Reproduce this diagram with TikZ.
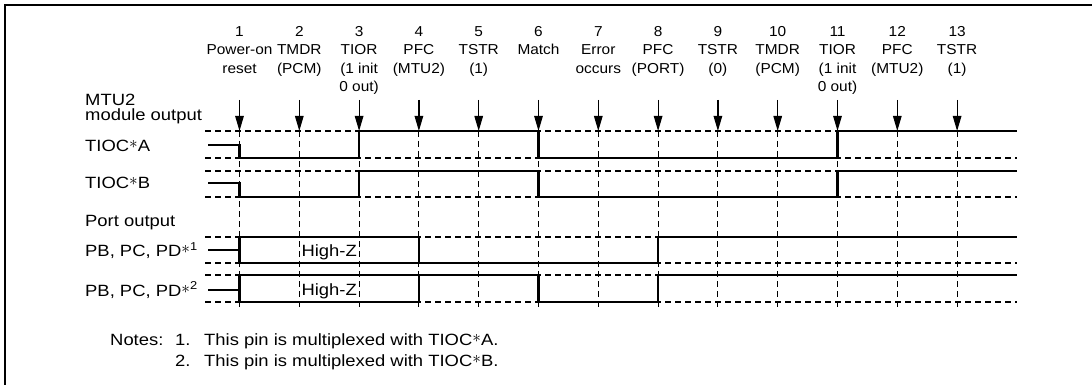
\documentclass[tikz,border=0pt]{standalone}
\usepackage{fontspec}
\setmainfont{Liberation Sans}[FakeStretch=1.13]
\newfontfamily\hdrfont{Liberation Sans}[FakeStretch=1.07]
\usetikzlibrary{arrows.meta}
\newcommand{\tast}{\raisebox{0.17em}{$\ast$}}
\tikzset{
    frame/.style={line width=2.2pt}, % outer frame (top and left edge)
    evlabel/.style={anchor=north, align=center, inner sep=0pt, font=\hdrfont\fontsize{14.4}{18.5}\selectfont},
    lbl/.style={anchor=base west, inner sep=0pt, font=\fontsize{16.3}{18}\selectfont},
    evarrow/.style={line width=1.2pt, -{Triangle[length=15pt,width=8.5pt]}},
    gridline/.style={line width=1.1pt, dash pattern=on 6pt off 4pt},
    wave/.style={line width=2.6pt, line join=miter}
}

\begin{document}
\begin{tikzpicture}[x=1pt, y=-1pt]
    \useasboundingbox (0,0) rectangle (1092,385);
    \draw[frame] (1092,5) -- (5,5) -- (5,385);

    % events
    \node[evlabel] (ev1) at (239.5,26) {1\\Power-on\\reset};
    \node[evlabel] (ev2) at (299.3,26) {2\\TMDR\\(PCM)};
    \node[evlabel] (ev3) at (359.1,26) {3\\TIOR\\(1 init\\0 out)};
    \node[evlabel] (ev4) at (418.9,26) {4\\PFC\\(MTU2)};
    \node[evlabel] (ev5) at (478.7,26) {5\\TSTR\\(1)};
    \node[evlabel] (ev6) at (538.5,26) {6\\Match};
    \node[evlabel] (ev7) at (598.3,26) {7\\Error\\occurs};
    \node[evlabel] (ev8) at (658.1,26) {8\\PFC\\(PORT)};
    \node[evlabel] (ev9) at (717.9,26) {9\\TSTR\\(0)};
    \node[evlabel] (ev10) at (777.7,26) {10\\TMDR\\(PCM)};
    \node[evlabel] (ev11) at (837.5,26) {11\\TIOR\\(1 init\\0 out)};
    \node[evlabel] (ev12) at (897.3,26) {12\\PFC\\(MTU2)};
    \node[evlabel] (ev13) at (957.1,26) {13\\TSTR\\(1)};

    % signal names
    \node[lbl] (mtu) at (85,106) {MTU2};
    \node[lbl] (modout) at (85,120.7) {module output};
    \node[lbl] (tioca) at (85,151.7) {TIOC\tast A};
    \node[lbl] (tiocb) at (85,188.3) {TIOC\tast B};
    \node[lbl] (portout) at (85,226) {Port output};
    \node[lbl] (pb1) at (85,256.7) {PB, PC, PD\tast\textsuperscript{1}};
    \node[lbl] (pb2) at (85,296) {PB, PC, PD\tast\textsuperscript{2}};

    % dashed levels
    \draw[gridline] (205,131) -- (1017,131);
    \draw[gridline] (205,158) -- (1017,158);
    \draw[gridline] (205,171) -- (1017,171);
    \draw[gridline] (205,197) -- (1017,197);
    \draw[gridline] (205,237) -- (1017,237);
    \draw[gridline] (205,263) -- (1017,263);
    \draw[gridline] (205,275) -- (1017,275);
    \draw[gridline] (205,302) -- (1017,302);

    % arrows and dashed time lines
    \draw[evarrow] (ev1 |- 0,100) -- (ev1 |- 0,131);  \draw[gridline] (ev1 |- 0,131) -- (ev1 |- 0,307);
    \draw[evarrow] (ev2 |- 0,100) -- (ev2 |- 0,131);  \draw[gridline] (ev2 |- 0,131) -- (ev2 |- 0,307);
    \draw[evarrow] (ev3 |- 0,100) -- (ev3 |- 0,131);  \draw[gridline] (ev3 |- 0,131) -- (ev3 |- 0,307);
    \draw[evarrow] (ev4 |- 0,100) -- (ev4 |- 0,131);  \draw[gridline] (ev4 |- 0,131) -- (ev4 |- 0,307);
    \draw[evarrow] (ev5 |- 0,100) -- (ev5 |- 0,131);  \draw[gridline] (ev5 |- 0,131) -- (ev5 |- 0,307);
    \draw[evarrow] (ev6 |- 0,100) -- (ev6 |- 0,131);  \draw[gridline] (ev6 |- 0,131) -- (ev6 |- 0,307);
    \draw[evarrow] (ev7 |- 0,100) -- (ev7 |- 0,131);  \draw[gridline] (ev7 |- 0,131) -- (ev7 |- 0,307);
    \draw[evarrow] (ev8 |- 0,100) -- (ev8 |- 0,131);  \draw[gridline] (ev8 |- 0,131) -- (ev8 |- 0,307);
    \draw[evarrow] (ev9 |- 0,100) -- (ev9 |- 0,131);  \draw[gridline] (ev9 |- 0,131) -- (ev9 |- 0,307);
    \draw[evarrow] (ev10 |- 0,100) -- (ev10 |- 0,131); \draw[gridline] (ev10 |- 0,131) -- (ev10 |- 0,307);
    \draw[evarrow] (ev11 |- 0,100) -- (ev11 |- 0,131); \draw[gridline] (ev11 |- 0,131) -- (ev11 |- 0,307);
    \draw[evarrow] (ev12 |- 0,100) -- (ev12 |- 0,131); \draw[gridline] (ev12 |- 0,131) -- (ev12 |- 0,307);
    \draw[evarrow] (ev13 |- 0,100) -- (ev13 |- 0,131); \draw[gridline] (ev13 |- 0,131) -- (ev13 |- 0,307);

    % waveforms
    \draw[wave] (208,145) -- (239.5,145) -- (239.5,158) -- (359.1,158) -- (359.1,131) -- (538.5,131) -- (538.5,158) -- (837.5,158) -- (837.5,131) -- (1017,131);
    \draw[wave] (208,183) -- (239.5,183) -- (239.5,197) -- (359.1,197) -- (359.1,171) -- (538.5,171) -- (538.5,197) -- (837.5,197) -- (837.5,171) -- (1017,171);
    \draw[wave] (208,250) -- (239.5,250) (418.9,263) -- (418.9,237) -- (239.5,237) -- (239.5,263) -- (658.1,263) -- (658.1,237) -- (1017,237);
    \draw[wave] (208,290) -- (239.5,290) (418.9,275) -- (418.9,302) -- (239.5,302) -- (239.5,275) -- (538.5,275) -- (538.5,302) -- (658.1,302) -- (658.1,275) -- (1017,275);
    \node[lbl, anchor=base] (hz1) at (329.2,256.7) {High-Z};
    \node[lbl, anchor=base] (hz2) at (329.2,295) {High-Z};

    % notes
    \node[lbl] (notes) at (110,345) {Notes:};
    \node[lbl] (n1) at (175,345) {1.};
    \node[lbl] (n1t) at (204,345) {This pin is multiplexed with TIOC\tast A.};
    \node[lbl] (n2) at (175,366) {2.};
    \node[lbl] (n2t) at (204,366) {This pin is multiplexed with TIOC\tast B.};
\end{tikzpicture}
\end{document}
